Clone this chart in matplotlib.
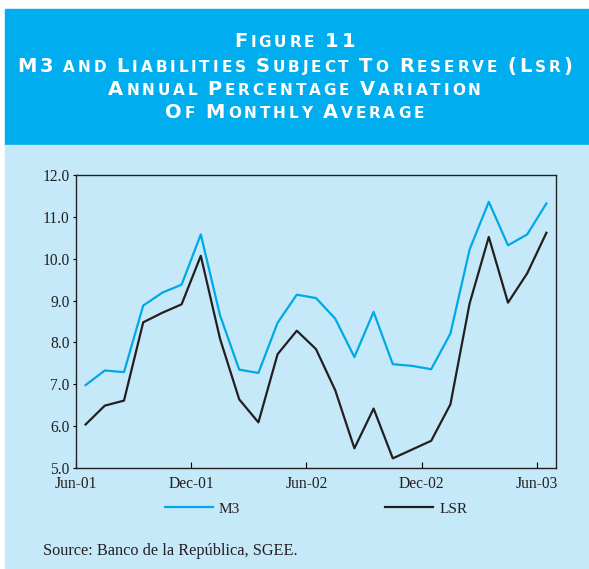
import matplotlib
matplotlib.use("Agg")
import matplotlib.pyplot as plt
from matplotlib.patches import Rectangle

months = ["Jun-01", "Jul-01", "Aug-01", "Sep-01", "Oct-01", "Nov-01", "Dec-01",
          "Jan-02", "Feb-02", "Mar-02", "Apr-02", "May-02", "Jun-02",
          "Jul-02", "Aug-02", "Sep-02", "Oct-02", "Nov-02", "Dec-02",
          "Jan-03", "Feb-03", "Mar-03", "Apr-03", "May-03", "Jun-03"]
m3 = [6.98, 7.33, 7.29, 8.88, 9.19, 9.38, 10.58, 8.65, 7.35, 7.27, 8.47, 9.14,
      9.06, 8.57, 7.65, 8.73, 7.48, 7.44, 7.36, 8.21, 10.22, 11.36, 10.32, 10.58, 11.32]
lsr = [6.04, 6.49, 6.61, 8.48, 8.71, 8.91, 10.07, 8.09, 6.64, 6.09, 7.72, 8.28,
       7.84, 6.86, 5.47, 6.42, 5.23, 5.44, 5.65, 6.52, 8.93, 10.52, 8.95, 9.65, 10.62]
tick_labels = ["Jun-01", "Dec-01", "Jun-02", "Dec-02", "Jun-03"]
title_lines = ["Figure 11",
               "M3 and Liabilities Subject To Reserve (Lsr)",
               "Annual Percentage Variation",
               "Of Monthly Average"]

HEADER = "#00aeef"
PANEL = "#c6e9fa"
M3_COL = "#00a9e6"
LSR_COL = "#231f20"
INK = "#231f20"

W, H = 589, 569
fig = plt.figure(figsize=(W / 100, H / 100), dpi=100)
fig.patch.set_facecolor("white")

# background boxes (pixel coords -> figure fraction)
fig.add_artist(Rectangle((5 / W, 1 - 145 / H), 1 - 5 / W, 136 / H,
                         transform=fig.transFigure, color=HEADER, zorder=0))
fig.add_artist(Rectangle((5 / W, 1 - 568 / H), 1 - 5 / W, 423 / H,
                         transform=fig.transFigure, color=PANEL, zorder=0))

renderer = fig.canvas.get_renderer()


def small_caps(text, y, big=14, small=11, track=2.9, space=7.5):
    # fake small caps with letter spacing, one text per character, centred
    items = []
    total = 0
    for ch in text:
        if ch == " ":
            items.append((None, space))
            total += space
            continue
        t = fig.text(0, y, ch.upper(), fontsize=small if ch.islower() else big,
                     fontweight="bold", color="white", va="baseline",
                     family="DejaVu Sans")
        w = t.get_window_extent(renderer).width + track
        items.append((t, w))
        total += w
    total -= track
    x = W / 2 - total / 2
    for t, w in items:
        if t is not None:
            t.set_x(x / W)
        x += w


baselines = [47, 72, 95, 118]
for line, yb in zip(title_lines, baselines):
    small_caps(line, 1 - yb / H)

ax = fig.add_axes([76 / W, 1 - 468 / H, 480 / W, 293 / H])
ax.set_facecolor(PANEL)
x = [i + 0.5 for i in range(len(months))]
ax.plot(x, m3, color=M3_COL, lw=1.6, label="M3")
ax.plot(x, lsr, color=LSR_COL, lw=1.6, label="LSR")

ax.set_xlim(0, 25)
ax.set_ylim(5, 12)
ax.set_xticks([0, 6, 12, 18, 24])
ax.set_xticklabels(tick_labels)
ax.set_yticks(range(5, 13))
ax.set_yticklabels([f"{v:.1f}" for v in range(5, 13)])
for lab in ax.get_xticklabels() + ax.get_yticklabels():
    lab.set_family("Liberation Serif")
    lab.set_fontsize(11.2)
    lab.set_color(INK)
ax.tick_params(axis="x", direction="in", length=4, width=0.8, pad=6)
ax.tick_params(axis="y", direction="out", length=2.5, width=0.8, pad=2)
for sp in ax.spines.values():
    sp.set_linewidth(1.0)
    sp.set_color(INK)

leg = ax.legend(ncol=2, loc="center", frameon=False,
                handlelength=3.14, handletextpad=0.4, columnspacing=9.5,
                prop={"family": "Liberation Serif", "size": 11})
# centre the legend under the axes
leg.set_bbox_to_anchor((316 / W, 1 - 509 / H), transform=fig.transFigure)
for t in leg.get_texts():
    t.set_color(INK)

fig.text(43 / W, 1 - 551 / H, "Source: Banco de la República, SGEE.",
         family="Liberation Serif", fontsize=11.7, color=INK, va="center")

fig.savefig("out.png", dpi=100, facecolor=fig.get_facecolor())
